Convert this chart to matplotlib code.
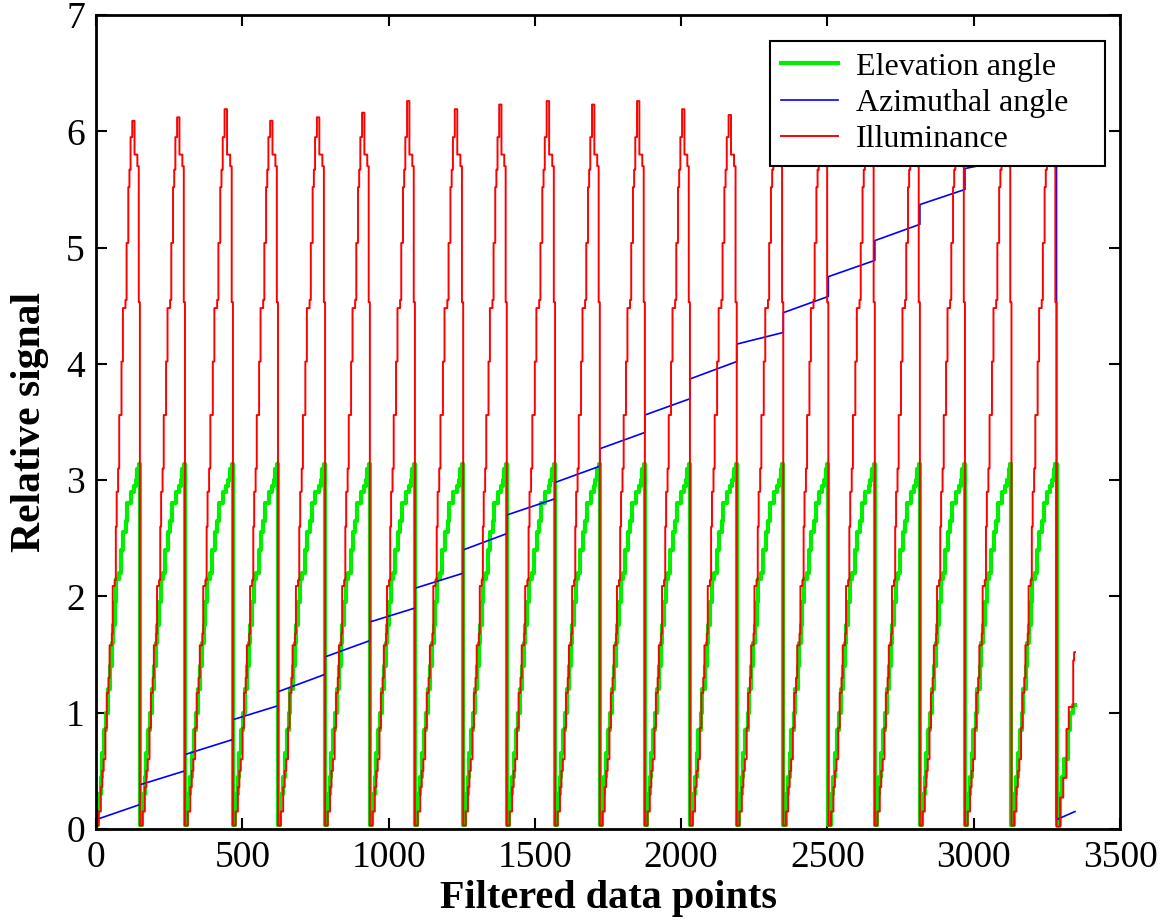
import matplotlib
matplotlib.use("Agg")
import matplotlib.pyplot as plt
import numpy as np

# data points where the elevation scan restarts (drops back to zero)
drops = [0, 150, 304, 468, 622, 783, 936, 1090, 1255, 1404, 1569, 1722,
         1876, 2030, 2190, 2349, 2503, 2662, 2816, 2970, 3129, 3283]
last_x = 3346

# peak illuminance of every full cycle
red_peaks = [6.09, 6.12, 6.19, 6.09, 6.12, 6.16, 6.26, 6.19, 6.23, 6.26, 6.23,
             6.26, 6.19, 6.14, 6.20, 6.18, 6.22, 6.20, 6.18, 6.21, 6.19]

# azimuthal angle at start / end of each cycle
blue_start = [0.08, 0.38, 0.64, 0.94, 1.18, 1.48, 1.78, 2.07, 2.40, 2.70, 2.98,
              3.27, 3.56, 3.87, 4.17, 4.44, 4.75, 5.06, 5.37, 5.68, 5.80, 0.08]
blue_end = [0.21, 0.50, 0.77, 1.06, 1.33, 1.62, 1.90, 2.20, 2.54, 2.84, 3.12,
            3.41, 3.70, 4.02, 4.27, 4.58, 4.89, 5.20, 5.50, 5.76, 5.85, 0.15]

# step profile of one typical cycle (offset in points for a 155-point cycle)
green_off = [0, 8, 16, 22, 28, 36, 41, 49, 55, 60, 66, 72, 80, 88, 96, 105,
             111, 123, 134, 140, 146, 151]
green_lev = [0.03, 0.30, 0.45, 0.65, 0.85, 1.00, 1.20, 1.40, 1.60, 1.75, 1.95,
             2.15, 2.20, 2.40, 2.55, 2.65, 2.80, 2.90, 2.95, 3.00, 3.10, 3.14]
red_off = [0, 9, 17, 22, 27, 33, 38, 44, 48, 56, 59, 66, 70, 73, 78, 82, 90,
           95, 104, 108, 114, 118, 122, 128, 136, 146, 151]
red_lev = [0.03, 0.15, 0.36, 0.50, 0.60, 0.87, 1.17, 1.30, 1.58, 1.68, 2.09,
           2.14, 2.60, 2.90, 3.10, 3.56, 4.02, 4.48, 4.55, 5.04, 5.52, 5.67,
           5.95, None, 5.80, 5.70, 4.53]
ref_len = 155.0

# last, unfinished cycle
green_last_off = [0, 12, 20, 27, 39, 47, 55]
green_last_lev = [0.03, 0.30, 0.45, 0.60, 0.85, 1.00, 1.07]
red_last_off = [0, 12, 23, 34, 42, 57, 60]
red_last_lev = [0.02, 0.27, 0.44, 0.86, 1.05, 1.45, 1.52]

gx, gy, rx, ry, bx, by = [], [], [], [], [], []
for i in range(len(drops) - 1):
    s, e = drops[i], drops[i + 1]
    k = (e - s) / ref_len
    for o, v in zip(green_off, green_lev):
        gx.append(s + o * k)
        gy.append(v)
    for o, v in zip(red_off, red_lev):
        rx.append(s + o * k)
        ry.append(red_peaks[i] if v is None else v)
s = drops[-1]
for o, v in zip(green_last_off, green_last_lev):
    gx.append(s + o)
    gy.append(v)
gx.append(last_x)
gy.append(green_last_lev[-1])
for o, v in zip(red_last_off, red_last_lev):
    rx.append(s + o)
    ry.append(v)
rx.append(last_x)
ry.append(red_last_lev[-1])

ends = drops[1:] + [last_x]
for i in range(len(drops)):
    bx += [drops[i], ends[i]]
    by += [blue_start[i], blue_end[i]]

plt.rcParams['font.family'] = ['Liberation Serif', 'DejaVu Serif']
fig = plt.figure(figsize=(11.61, 9.22), dpi=100)
ax = fig.add_axes([0.0827, 0.1009, 0.8820, 0.8828])

ax.plot(gx, gy, color='#00ee00', linewidth=3.0, drawstyle='steps-post',
        label='Elevation angle')
ax.plot(bx, by, color='#0000ff', linewidth=1.2, label='Azimuthal angle')
ax.plot(rx, ry, color='#ff0000', linewidth=1.4, drawstyle='steps-post',
        label='Illuminance')

ax.set_xlim(0, 3500)
ax.set_ylim(0, 7)
ax.set_xticks(np.arange(0, 3501, 500))
ax.set_yticks(np.arange(0, 8, 1))
ax.tick_params(direction='in', length=8, width=1.5, top=True, right=True,
               labelsize=27, pad=8)
for sp in ax.spines.values():
    sp.set_linewidth(2)

ax.set_xlabel('Filtered data points', fontsize=29, fontweight='bold', labelpad=4)
ax.set_ylabel('Relative signal', fontsize=30, fontweight='bold', labelpad=12)

leg = ax.legend(loc='upper right', bbox_to_anchor=(0.658, 0.5, 0.327, 0.468),
                mode='expand', borderaxespad=0, fontsize=23, fancybox=False,
                framealpha=1, edgecolor='black', handlelength=1.8,
                handletextpad=0.55, labelspacing=0.22, borderpad=0.35)
leg.get_frame().set_linewidth(1.5)

fig.savefig('out.png', dpi=100)
